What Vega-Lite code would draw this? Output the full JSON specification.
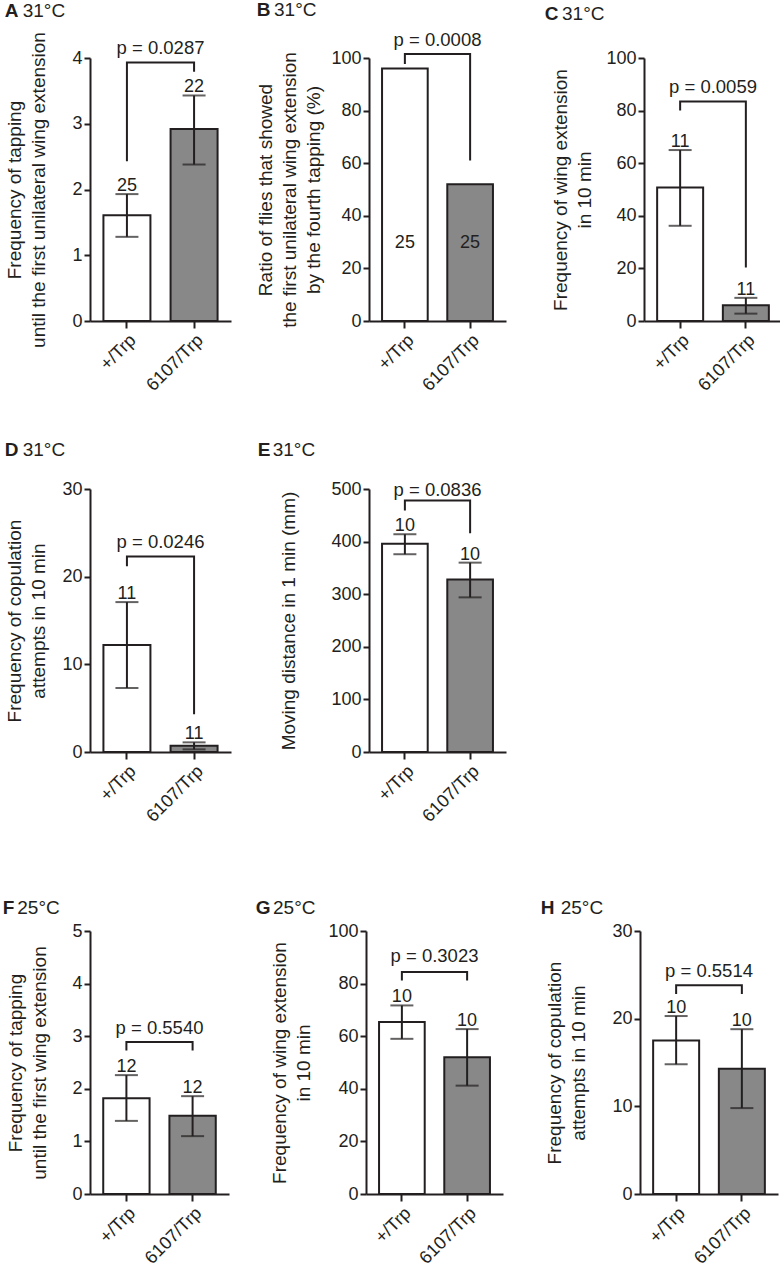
{
  "$schema": "https://vega.github.io/schema/vega-lite/v6.json",
  "background": "white",
  "padding": {"left": 2, "top": 1, "right": 0, "bottom": 0},
  "datasets": {
    "bars": [
      {"panel": "A", "group": "+/Trp", "mean": 1.61, "lo": 1.28, "hi": 1.93, "n": 25},
      {"panel": "A", "group": "6107/Trp", "mean": 2.92, "lo": 2.38, "hi": 3.43, "n": 22},
      {"panel": "B", "group": "+/Trp", "mean": 96, "n": 25},
      {"panel": "B", "group": "6107/Trp", "mean": 52, "n": 25},
      {"panel": "C", "group": "+/Trp", "mean": 50.8, "lo": 36.2, "hi": 65, "n": 11},
      {"panel": "C", "group": "6107/Trp", "mean": 6.0, "lo": 2.8, "hi": 8.8, "n": 11},
      {"panel": "D", "group": "+/Trp", "mean": 12.2, "lo": 7.3, "hi": 17.1, "n": 11},
      {"panel": "D", "group": "6107/Trp", "mean": 0.7, "lo": 0.3, "hi": 1.1, "n": 11},
      {"panel": "E", "group": "+/Trp", "mean": 396, "lo": 376, "hi": 414, "n": 10},
      {"panel": "E", "group": "6107/Trp", "mean": 328, "lo": 294, "hi": 360, "n": 10},
      {"panel": "F", "group": "+/Trp", "mean": 1.82, "lo": 1.39, "hi": 2.26, "n": 12},
      {"panel": "F", "group": "6107/Trp", "mean": 1.49, "lo": 1.10, "hi": 1.86, "n": 12},
      {"panel": "G", "group": "+/Trp", "mean": 65.4, "lo": 59, "hi": 71.7, "n": 10},
      {"panel": "G", "group": "6107/Trp", "mean": 52, "lo": 41.2, "hi": 62.7, "n": 10},
      {"panel": "H", "group": "+/Trp", "mean": 17.5, "lo": 14.8, "hi": 20.3, "n": 10},
      {"panel": "H", "group": "6107/Trp", "mean": 14.3, "lo": 9.8, "hi": 18.8, "n": 10}
    ],
    "brackets": [
      {"panel": "A", "group": "+/Trp", "y": 2.43, "order": 1},
      {"panel": "A", "group": "+/Trp", "y": 3.93, "order": 2},
      {"panel": "A", "group": "6107/Trp", "y": 3.93, "order": 3},
      {"panel": "A", "group": "6107/Trp", "y": 3.79, "order": 4},
      {"panel": "B", "group": "+/Trp", "y": 97.7, "order": 1},
      {"panel": "B", "group": "+/Trp", "y": 101.5, "order": 2},
      {"panel": "B", "group": "6107/Trp", "y": 101.5, "order": 3},
      {"panel": "B", "group": "6107/Trp", "y": 61, "order": 4},
      {"panel": "C", "group": "+/Trp", "y": 80, "order": 1},
      {"panel": "C", "group": "+/Trp", "y": 83.5, "order": 2},
      {"panel": "C", "group": "6107/Trp", "y": 83.5, "order": 3},
      {"panel": "C", "group": "6107/Trp", "y": 20.3, "order": 4},
      {"panel": "D", "group": "+/Trp", "y": 21.2, "order": 1},
      {"panel": "D", "group": "+/Trp", "y": 22.3, "order": 2},
      {"panel": "D", "group": "6107/Trp", "y": 22.3, "order": 3},
      {"panel": "D", "group": "6107/Trp", "y": 4.3, "order": 4},
      {"panel": "E", "group": "+/Trp", "y": 459, "order": 1},
      {"panel": "E", "group": "+/Trp", "y": 478, "order": 2},
      {"panel": "E", "group": "6107/Trp", "y": 478, "order": 3},
      {"panel": "E", "group": "6107/Trp", "y": 416, "order": 4},
      {"panel": "F", "group": "+/Trp", "y": 2.73, "order": 1},
      {"panel": "F", "group": "+/Trp", "y": 2.89, "order": 2},
      {"panel": "F", "group": "6107/Trp", "y": 2.89, "order": 3},
      {"panel": "F", "group": "6107/Trp", "y": 2.73, "order": 4},
      {"panel": "G", "group": "+/Trp", "y": 81.2, "order": 1},
      {"panel": "G", "group": "+/Trp", "y": 84.4, "order": 2},
      {"panel": "G", "group": "6107/Trp", "y": 84.4, "order": 3},
      {"panel": "G", "group": "6107/Trp", "y": 81.2, "order": 4},
      {"panel": "H", "group": "+/Trp", "y": 22.8, "order": 1},
      {"panel": "H", "group": "+/Trp", "y": 23.8, "order": 2},
      {"panel": "H", "group": "6107/Trp", "y": 23.8, "order": 3},
      {"panel": "H", "group": "6107/Trp", "y": 22.8, "order": 4}
    ],
    "pvals": [
      {"panel": "A", "p": "p = 0.0287", "y": 4.06},
      {"panel": "B", "p": "p = 0.0008", "y": 104.5},
      {"panel": "C", "p": "p = 0.0059", "y": 86.7},
      {"panel": "D", "p": "p = 0.0246", "y": 23.3},
      {"panel": "E", "p": "p = 0.0836", "y": 487},
      {"panel": "F", "p": "p = 0.5540", "y": 3.05},
      {"panel": "G", "p": "p = 0.3023", "y": 88.2},
      {"panel": "H", "p": "p = 0.5514", "y": 24.8}
    ]
  },
  "vconcat": [
    {
      "concat": [
        {
          "width": 141, "height": 263,
          "title": {"text": "A", "subtitle": "31°C", "dx": -67.3, "offset": 11, "encoding": {"dx": {"value": -85.3}}},
          "layer": [
            {"data": {"name": "bars"}, "transform": [{"filter": "datum.panel === 'A'"}],
             "mark": {"type": "bar", "stroke": "#231f20", "strokeWidth": 2},
             "encoding": {
               "x": {"field": "group", "type": "nominal", "sort": ["+/Trp", "6107/Trp"], "scale": {"paddingInner": 0.3, "paddingOuter": 0.2}, "axis": {"title": null}},
               "y": {"field": "mean", "type": "quantitative", "scale": {"domain": [0, 4], "nice": false}, "axis": {"values": [0, 1, 2, 3, 4], "format": "d", "title": ["Frequency of tapping", "until the first unilateral wing extension"], "titlePadding": 23}},
               "fill": {"field": "group", "type": "nominal", "scale": {"domain": ["+/Trp", "6107/Trp"], "range": ["#ffffff", "#888888"]}, "legend": null}}},
            {"data": {"name": "bars"}, "transform": [{"filter": "datum.panel === 'A'"}],
             "mark": {"type": "rule", "strokeWidth": 2, "color": "#231f20"},
             "encoding": {"x": {"field": "group", "type": "nominal", "sort": ["+/Trp", "6107/Trp"]}, "y": {"field": "lo", "type": "quantitative"}, "y2": {"field": "hi"}}},
            {"data": {"name": "bars"}, "transform": [{"filter": "datum.panel === 'A'"}],
             "mark": {"type": "tick", "size": 23, "thickness": 2, "color": "#231f20"},
             "encoding": {"x": {"field": "group", "type": "nominal", "sort": ["+/Trp", "6107/Trp"]}, "y": {"field": "lo", "type": "quantitative"}}},
            {"data": {"name": "bars"}, "transform": [{"filter": "datum.panel === 'A'"}],
             "mark": {"type": "tick", "size": 23, "thickness": 2, "color": "#231f20"},
             "encoding": {"x": {"field": "group", "type": "nominal", "sort": ["+/Trp", "6107/Trp"]}, "y": {"field": "hi", "type": "quantitative"}}},
            {"data": {"name": "bars"}, "transform": [{"filter": "datum.panel === 'A'"}],
             "mark": {"type": "text", "baseline": "alphabetic", "dy": -3},
             "encoding": {"x": {"field": "group", "type": "nominal", "sort": ["+/Trp", "6107/Trp"]}, "y": {"field": "hi", "type": "quantitative"}, "text": {"field": "n"}}},
            {"data": {"name": "brackets"}, "transform": [{"filter": "datum.panel === 'A'"}],
             "mark": {"type": "line", "strokeWidth": 2, "color": "#231f20"},
             "encoding": {"x": {"field": "group", "type": "nominal", "sort": ["+/Trp", "6107/Trp"]}, "y": {"field": "y", "type": "quantitative"}, "order": {"field": "order"}}},
            {"data": {"name": "pvals"}, "transform": [{"filter": "datum.panel === 'A'"}],
             "mark": {"type": "text", "baseline": "alphabetic", "fontSize": 18.5},
             "encoding": {"y": {"field": "y", "type": "quantitative"}, "text": {"field": "p"}}}
          ]
        },
        {
          "width": 137, "height": 263,
          "title": {"text": "B", "subtitle": "31°C", "dx": -95, "offset": 11, "encoding": {"dx": {"value": -112.3}}},
          "layer": [
            {"data": {"name": "bars"}, "transform": [{"filter": "datum.panel === 'B'"}],
             "mark": {"type": "bar", "stroke": "#231f20", "strokeWidth": 2},
             "encoding": {
               "x": {"field": "group", "type": "nominal", "sort": ["+/Trp", "6107/Trp"], "scale": {"paddingInner": 0.3, "paddingOuter": 0.2}, "axis": {"title": null}},
               "y": {"field": "mean", "type": "quantitative", "scale": {"domain": [0, 100], "nice": false}, "axis": {"values": [0, 20, 40, 60, 80, 100], "format": "d", "title": ["Ratio of flies that showed", "the first unilateral wing extension", "by the fourth tapping (%)"], "titlePadding": 7}},
               "fill": {"field": "group", "type": "nominal", "scale": {"domain": ["+/Trp", "6107/Trp"], "range": ["#ffffff", "#888888"]}, "legend": null}}},
            {"data": {"name": "bars"}, "transform": [{"filter": "datum.panel === 'B'"}],
             "mark": {"type": "text", "baseline": "middle"},
             "encoding": {"x": {"field": "group", "type": "nominal", "sort": ["+/Trp", "6107/Trp"]}, "y": {"datum": 29.5}, "text": {"field": "n"}}},
            {"data": {"name": "brackets"}, "transform": [{"filter": "datum.panel === 'B'"}],
             "mark": {"type": "line", "strokeWidth": 2, "color": "#231f20"},
             "encoding": {"x": {"field": "group", "type": "nominal", "sort": ["+/Trp", "6107/Trp"]}, "y": {"field": "y", "type": "quantitative"}, "order": {"field": "order"}}},
            {"data": {"name": "pvals"}, "transform": [{"filter": "datum.panel === 'B'"}],
             "mark": {"type": "text", "baseline": "alphabetic", "fontSize": 18.5},
             "encoding": {"y": {"field": "y", "type": "quantitative"}, "text": {"field": "p"}}}
          ]
        },
        {
          "width": 138, "height": 263,
          "title": {"text": "C", "subtitle": "31°C", "dx": -82, "offset": 25.5, "encoding": {"dx": {"value": -99.3}}},
          "layer": [
            {"data": {"name": "bars"}, "transform": [{"filter": "datum.panel === 'C'"}],
             "mark": {"type": "bar", "stroke": "#231f20", "strokeWidth": 2},
             "encoding": {
               "x": {"field": "group", "type": "nominal", "sort": ["+/Trp", "6107/Trp"], "scale": {"paddingInner": 0.3, "paddingOuter": 0.2}, "axis": {"title": null}},
               "y": {"field": "mean", "type": "quantitative", "scale": {"domain": [0, 100], "nice": false}, "axis": {"values": [0, 20, 40, 60, 80, 100], "format": "d", "title": ["Frequency of wing extension", "in 10 min"], "titlePadding": 11}},
               "fill": {"field": "group", "type": "nominal", "scale": {"domain": ["+/Trp", "6107/Trp"], "range": ["#ffffff", "#888888"]}, "legend": null}}},
            {"data": {"name": "bars"}, "transform": [{"filter": "datum.panel === 'C'"}],
             "mark": {"type": "rule", "strokeWidth": 2, "color": "#231f20"},
             "encoding": {"x": {"field": "group", "type": "nominal", "sort": ["+/Trp", "6107/Trp"]}, "y": {"field": "lo", "type": "quantitative"}, "y2": {"field": "hi"}}},
            {"data": {"name": "bars"}, "transform": [{"filter": "datum.panel === 'C'"}],
             "mark": {"type": "tick", "size": 23, "thickness": 2, "color": "#231f20"},
             "encoding": {"x": {"field": "group", "type": "nominal", "sort": ["+/Trp", "6107/Trp"]}, "y": {"field": "lo", "type": "quantitative"}}},
            {"data": {"name": "bars"}, "transform": [{"filter": "datum.panel === 'C'"}],
             "mark": {"type": "tick", "size": 23, "thickness": 2, "color": "#231f20"},
             "encoding": {"x": {"field": "group", "type": "nominal", "sort": ["+/Trp", "6107/Trp"]}, "y": {"field": "hi", "type": "quantitative"}}},
            {"data": {"name": "bars"}, "transform": [{"filter": "datum.panel === 'C'"}],
             "mark": {"type": "text", "baseline": "alphabetic", "dy": -3},
             "encoding": {"x": {"field": "group", "type": "nominal", "sort": ["+/Trp", "6107/Trp"]}, "y": {"field": "hi", "type": "quantitative"}, "text": {"field": "n"}}},
            {"data": {"name": "brackets"}, "transform": [{"filter": "datum.panel === 'C'"}],
             "mark": {"type": "line", "strokeWidth": 2, "color": "#231f20"},
             "encoding": {"x": {"field": "group", "type": "nominal", "sort": ["+/Trp", "6107/Trp"]}, "y": {"field": "y", "type": "quantitative"}, "order": {"field": "order"}}},
            {"data": {"name": "pvals"}, "transform": [{"filter": "datum.panel === 'C'"}],
             "mark": {"type": "text", "baseline": "alphabetic", "fontSize": 18.5},
             "encoding": {"y": {"field": "y", "type": "quantitative"}, "text": {"field": "p"}}}
          ]
        },
        {
          "width": 141, "height": 263,
          "title": {"text": "D", "subtitle": "31°C", "dx": -67.3, "offset": 20.5, "encoding": {"dx": {"value": -85.3}}},
          "layer": [
            {"data": {"name": "bars"}, "transform": [{"filter": "datum.panel === 'D'"}],
             "mark": {"type": "bar", "stroke": "#231f20", "strokeWidth": 2},
             "encoding": {
               "x": {"field": "group", "type": "nominal", "sort": ["+/Trp", "6107/Trp"], "scale": {"paddingInner": 0.3, "paddingOuter": 0.2}, "axis": {"title": null}},
               "y": {"field": "mean", "type": "quantitative", "scale": {"domain": [0, 30], "nice": false}, "axis": {"values": [0, 10, 20, 30], "format": "d", "title": ["Frequency of copulation", "attempts in 10 min"], "titlePadding": 13}},
               "fill": {"field": "group", "type": "nominal", "scale": {"domain": ["+/Trp", "6107/Trp"], "range": ["#ffffff", "#888888"]}, "legend": null}}},
            {"data": {"name": "bars"}, "transform": [{"filter": "datum.panel === 'D'"}],
             "mark": {"type": "rule", "strokeWidth": 2, "color": "#231f20"},
             "encoding": {"x": {"field": "group", "type": "nominal", "sort": ["+/Trp", "6107/Trp"]}, "y": {"field": "lo", "type": "quantitative"}, "y2": {"field": "hi"}}},
            {"data": {"name": "bars"}, "transform": [{"filter": "datum.panel === 'D'"}],
             "mark": {"type": "tick", "size": 23, "thickness": 2, "color": "#231f20"},
             "encoding": {"x": {"field": "group", "type": "nominal", "sort": ["+/Trp", "6107/Trp"]}, "y": {"field": "lo", "type": "quantitative"}}},
            {"data": {"name": "bars"}, "transform": [{"filter": "datum.panel === 'D'"}],
             "mark": {"type": "tick", "size": 23, "thickness": 2, "color": "#231f20"},
             "encoding": {"x": {"field": "group", "type": "nominal", "sort": ["+/Trp", "6107/Trp"]}, "y": {"field": "hi", "type": "quantitative"}}},
            {"data": {"name": "bars"}, "transform": [{"filter": "datum.panel === 'D'"}],
             "mark": {"type": "text", "baseline": "alphabetic", "dy": -3},
             "encoding": {"x": {"field": "group", "type": "nominal", "sort": ["+/Trp", "6107/Trp"]}, "y": {"field": "hi", "type": "quantitative"}, "text": {"field": "n"}}},
            {"data": {"name": "brackets"}, "transform": [{"filter": "datum.panel === 'D'"}],
             "mark": {"type": "line", "strokeWidth": 2, "color": "#231f20"},
             "encoding": {"x": {"field": "group", "type": "nominal", "sort": ["+/Trp", "6107/Trp"]}, "y": {"field": "y", "type": "quantitative"}, "order": {"field": "order"}}},
            {"data": {"name": "pvals"}, "transform": [{"filter": "datum.panel === 'D'"}],
             "mark": {"type": "text", "baseline": "alphabetic", "fontSize": 18.5},
             "encoding": {"y": {"field": "y", "type": "quantitative"}, "text": {"field": "p"}}}
          ]
        },
        {
          "width": 137, "height": 263,
          "title": {"text": "E", "subtitle": "31°C", "dx": -96.3, "offset": 20.5, "encoding": {"dx": {"value": -111.3}}},
          "layer": [
            {"data": {"name": "bars"}, "transform": [{"filter": "datum.panel === 'E'"}],
             "mark": {"type": "bar", "stroke": "#231f20", "strokeWidth": 2},
             "encoding": {
               "x": {"field": "group", "type": "nominal", "sort": ["+/Trp", "6107/Trp"], "scale": {"paddingInner": 0.3, "paddingOuter": 0.2}, "axis": {"title": null}},
               "y": {"field": "mean", "type": "quantitative", "scale": {"domain": [0, 500], "nice": false}, "axis": {"values": [0, 100, 200, 300, 400, 500], "format": "d", "title": "Moving distance in 1 min (mm)", "titlePadding": 32}},
               "fill": {"field": "group", "type": "nominal", "scale": {"domain": ["+/Trp", "6107/Trp"], "range": ["#ffffff", "#888888"]}, "legend": null}}},
            {"data": {"name": "bars"}, "transform": [{"filter": "datum.panel === 'E'"}],
             "mark": {"type": "rule", "strokeWidth": 2, "color": "#231f20"},
             "encoding": {"x": {"field": "group", "type": "nominal", "sort": ["+/Trp", "6107/Trp"]}, "y": {"field": "lo", "type": "quantitative"}, "y2": {"field": "hi"}}},
            {"data": {"name": "bars"}, "transform": [{"filter": "datum.panel === 'E'"}],
             "mark": {"type": "tick", "size": 23, "thickness": 2, "color": "#231f20"},
             "encoding": {"x": {"field": "group", "type": "nominal", "sort": ["+/Trp", "6107/Trp"]}, "y": {"field": "lo", "type": "quantitative"}}},
            {"data": {"name": "bars"}, "transform": [{"filter": "datum.panel === 'E'"}],
             "mark": {"type": "tick", "size": 23, "thickness": 2, "color": "#231f20"},
             "encoding": {"x": {"field": "group", "type": "nominal", "sort": ["+/Trp", "6107/Trp"]}, "y": {"field": "hi", "type": "quantitative"}}},
            {"data": {"name": "bars"}, "transform": [{"filter": "datum.panel === 'E'"}],
             "mark": {"type": "text", "baseline": "alphabetic", "dy": -3},
             "encoding": {"x": {"field": "group", "type": "nominal", "sort": ["+/Trp", "6107/Trp"]}, "y": {"field": "hi", "type": "quantitative"}, "text": {"field": "n"}}},
            {"data": {"name": "brackets"}, "transform": [{"filter": "datum.panel === 'E'"}],
             "mark": {"type": "line", "strokeWidth": 2, "color": "#231f20"},
             "encoding": {"x": {"field": "group", "type": "nominal", "sort": ["+/Trp", "6107/Trp"]}, "y": {"field": "y", "type": "quantitative"}, "order": {"field": "order"}}},
            {"data": {"name": "pvals"}, "transform": [{"filter": "datum.panel === 'E'"}],
             "mark": {"type": "text", "baseline": "alphabetic", "fontSize": 18.5},
             "encoding": {"y": {"field": "y", "type": "quantitative"}, "text": {"field": "p"}}}
          ]
        }
      ],
      "columns": 3,
      "spacing": {"row": 168, "column": 138},
      "bounds": "flush"
    },
    {
      "hconcat": [
        {
          "width": 139, "height": 263,
          "title": {"text": "F", "subtitle": "25°C", "dx": -72.7, "offset": 4, "encoding": {"dx": {"value": -87.3}}},
          "layer": [
            {"data": {"name": "bars"}, "transform": [{"filter": "datum.panel === 'F'"}],
             "mark": {"type": "bar", "stroke": "#231f20", "strokeWidth": 2},
             "encoding": {
               "x": {"field": "group", "type": "nominal", "sort": ["+/Trp", "6107/Trp"], "scale": {"paddingInner": 0.3, "paddingOuter": 0.2}, "axis": {"title": null}},
               "y": {"field": "mean", "type": "quantitative", "scale": {"domain": [0, 5], "nice": false}, "axis": {"values": [0, 1, 2, 3, 4, 5], "format": "d", "title": ["Frequency of tapping", "until the first wing extension"], "titlePadding": 22}},
               "fill": {"field": "group", "type": "nominal", "scale": {"domain": ["+/Trp", "6107/Trp"], "range": ["#ffffff", "#888888"]}, "legend": null}}},
            {"data": {"name": "bars"}, "transform": [{"filter": "datum.panel === 'F'"}],
             "mark": {"type": "rule", "strokeWidth": 2, "color": "#231f20"},
             "encoding": {"x": {"field": "group", "type": "nominal", "sort": ["+/Trp", "6107/Trp"]}, "y": {"field": "lo", "type": "quantitative"}, "y2": {"field": "hi"}}},
            {"data": {"name": "bars"}, "transform": [{"filter": "datum.panel === 'F'"}],
             "mark": {"type": "tick", "size": 23, "thickness": 2, "color": "#231f20"},
             "encoding": {"x": {"field": "group", "type": "nominal", "sort": ["+/Trp", "6107/Trp"]}, "y": {"field": "lo", "type": "quantitative"}}},
            {"data": {"name": "bars"}, "transform": [{"filter": "datum.panel === 'F'"}],
             "mark": {"type": "tick", "size": 23, "thickness": 2, "color": "#231f20"},
             "encoding": {"x": {"field": "group", "type": "nominal", "sort": ["+/Trp", "6107/Trp"]}, "y": {"field": "hi", "type": "quantitative"}}},
            {"data": {"name": "bars"}, "transform": [{"filter": "datum.panel === 'F'"}],
             "mark": {"type": "text", "baseline": "alphabetic", "dy": -3},
             "encoding": {"x": {"field": "group", "type": "nominal", "sort": ["+/Trp", "6107/Trp"]}, "y": {"field": "hi", "type": "quantitative"}, "text": {"field": "n"}}},
            {"data": {"name": "brackets"}, "transform": [{"filter": "datum.panel === 'F'"}],
             "mark": {"type": "line", "strokeWidth": 2, "color": "#231f20"},
             "encoding": {"x": {"field": "group", "type": "nominal", "sort": ["+/Trp", "6107/Trp"]}, "y": {"field": "y", "type": "quantitative"}, "order": {"field": "order"}}},
            {"data": {"name": "pvals"}, "transform": [{"filter": "datum.panel === 'F'"}],
             "mark": {"type": "text", "baseline": "alphabetic", "fontSize": 18.5},
             "encoding": {"y": {"field": "y", "type": "quantitative"}, "text": {"field": "p"}}}
          ]
        },
        {
          "width": 137, "height": 263,
          "title": {"text": "G", "subtitle": "25°C", "dx": -93, "offset": 4, "encoding": {"dx": {"value": -110.3}}},
          "layer": [
            {"data": {"name": "bars"}, "transform": [{"filter": "datum.panel === 'G'"}],
             "mark": {"type": "bar", "stroke": "#231f20", "strokeWidth": 2},
             "encoding": {
               "x": {"field": "group", "type": "nominal", "sort": ["+/Trp", "6107/Trp"], "scale": {"paddingInner": 0.3, "paddingOuter": 0.2}, "axis": {"title": null}},
               "y": {"field": "mean", "type": "quantitative", "scale": {"domain": [0, 100], "nice": false}, "axis": {"values": [0, 20, 40, 60, 80, 100], "format": "d", "title": ["Frequency of wing extension", "in 10 min"], "titlePadding": 14}},
               "fill": {"field": "group", "type": "nominal", "scale": {"domain": ["+/Trp", "6107/Trp"], "range": ["#ffffff", "#888888"]}, "legend": null}}},
            {"data": {"name": "bars"}, "transform": [{"filter": "datum.panel === 'G'"}],
             "mark": {"type": "rule", "strokeWidth": 2, "color": "#231f20"},
             "encoding": {"x": {"field": "group", "type": "nominal", "sort": ["+/Trp", "6107/Trp"]}, "y": {"field": "lo", "type": "quantitative"}, "y2": {"field": "hi"}}},
            {"data": {"name": "bars"}, "transform": [{"filter": "datum.panel === 'G'"}],
             "mark": {"type": "tick", "size": 23, "thickness": 2, "color": "#231f20"},
             "encoding": {"x": {"field": "group", "type": "nominal", "sort": ["+/Trp", "6107/Trp"]}, "y": {"field": "lo", "type": "quantitative"}}},
            {"data": {"name": "bars"}, "transform": [{"filter": "datum.panel === 'G'"}],
             "mark": {"type": "tick", "size": 23, "thickness": 2, "color": "#231f20"},
             "encoding": {"x": {"field": "group", "type": "nominal", "sort": ["+/Trp", "6107/Trp"]}, "y": {"field": "hi", "type": "quantitative"}}},
            {"data": {"name": "bars"}, "transform": [{"filter": "datum.panel === 'G'"}],
             "mark": {"type": "text", "baseline": "alphabetic", "dy": -3},
             "encoding": {"x": {"field": "group", "type": "nominal", "sort": ["+/Trp", "6107/Trp"]}, "y": {"field": "hi", "type": "quantitative"}, "text": {"field": "n"}}},
            {"data": {"name": "brackets"}, "transform": [{"filter": "datum.panel === 'G'"}],
             "mark": {"type": "line", "strokeWidth": 2, "color": "#231f20"},
             "encoding": {"x": {"field": "group", "type": "nominal", "sort": ["+/Trp", "6107/Trp"]}, "y": {"field": "y", "type": "quantitative"}, "order": {"field": "order"}}},
            {"data": {"name": "pvals"}, "transform": [{"filter": "datum.panel === 'G'"}],
             "mark": {"type": "text", "baseline": "alphabetic", "fontSize": 18.5},
             "encoding": {"y": {"field": "y", "type": "quantitative"}, "text": {"field": "p"}}}
          ]
        },
        {
          "width": 138, "height": 263,
          "title": {"text": "H", "subtitle": "25°C", "dx": -79.3, "offset": 4, "encoding": {"dx": {"value": -99.3}}},
          "layer": [
            {"data": {"name": "bars"}, "transform": [{"filter": "datum.panel === 'H'"}],
             "mark": {"type": "bar", "stroke": "#231f20", "strokeWidth": 2},
             "encoding": {
               "x": {"field": "group", "type": "nominal", "sort": ["+/Trp", "6107/Trp"], "scale": {"paddingInner": 0.3, "paddingOuter": 0.2}, "axis": {"title": null}},
               "y": {"field": "mean", "type": "quantitative", "scale": {"domain": [0, 30], "nice": false}, "axis": {"values": [0, 10, 20, 30], "format": "d", "title": ["Frequency of copulation", "attempts in 10 min"], "titlePadding": 23}},
               "fill": {"field": "group", "type": "nominal", "scale": {"domain": ["+/Trp", "6107/Trp"], "range": ["#ffffff", "#888888"]}, "legend": null}}},
            {"data": {"name": "bars"}, "transform": [{"filter": "datum.panel === 'H'"}],
             "mark": {"type": "rule", "strokeWidth": 2, "color": "#231f20"},
             "encoding": {"x": {"field": "group", "type": "nominal", "sort": ["+/Trp", "6107/Trp"]}, "y": {"field": "lo", "type": "quantitative"}, "y2": {"field": "hi"}}},
            {"data": {"name": "bars"}, "transform": [{"filter": "datum.panel === 'H'"}],
             "mark": {"type": "tick", "size": 23, "thickness": 2, "color": "#231f20"},
             "encoding": {"x": {"field": "group", "type": "nominal", "sort": ["+/Trp", "6107/Trp"]}, "y": {"field": "lo", "type": "quantitative"}}},
            {"data": {"name": "bars"}, "transform": [{"filter": "datum.panel === 'H'"}],
             "mark": {"type": "tick", "size": 23, "thickness": 2, "color": "#231f20"},
             "encoding": {"x": {"field": "group", "type": "nominal", "sort": ["+/Trp", "6107/Trp"]}, "y": {"field": "hi", "type": "quantitative"}}},
            {"data": {"name": "bars"}, "transform": [{"filter": "datum.panel === 'H'"}],
             "mark": {"type": "text", "baseline": "alphabetic", "dy": -3},
             "encoding": {"x": {"field": "group", "type": "nominal", "sort": ["+/Trp", "6107/Trp"]}, "y": {"field": "hi", "type": "quantitative"}, "text": {"field": "n"}}},
            {"data": {"name": "brackets"}, "transform": [{"filter": "datum.panel === 'H'"}],
             "mark": {"type": "line", "strokeWidth": 2, "color": "#231f20"},
             "encoding": {"x": {"field": "group", "type": "nominal", "sort": ["+/Trp", "6107/Trp"]}, "y": {"field": "y", "type": "quantitative"}, "order": {"field": "order"}}},
            {"data": {"name": "pvals"}, "transform": [{"filter": "datum.panel === 'H'"}],
             "mark": {"type": "text", "baseline": "alphabetic", "fontSize": 18.5},
             "encoding": {"y": {"field": "y", "type": "quantitative"}, "text": {"field": "p"}}}
          ]
        }
      ],
      "spacing": 137,
      "bounds": "flush"
    }
  ],
  "spacing": 73,
  "bounds": "full",
  "config": {
    "font": "Liberation Sans",
    "view": {"stroke": null},
    "axis": {
      "domainColor": "#231f20", "domainWidth": 2, "tickColor": "#231f20", "tickWidth": 2, "tickSize": 6,
      "labelFontSize": 18, "labelColor": "#231f20", "labelPadding": 2,
      "titleFontSize": 19, "titleFontWeight": "normal", "titleColor": "#231f20", "titleLineHeight": 24,
      "grid": false
    },
    "axisX": {"labelAngle": -45, "tickSize": 7, "labelPadding": 3},
    "title": {
      "anchor": "start", "frame": "group", "fontSize": 19, "fontWeight": "bold", "color": "#231f20",
      "subtitleFontSize": 19, "subtitleColor": "#231f20", "subtitleFontWeight": "normal", "subtitlePadding": -19
    },
    "text": {"color": "#231f20", "fontSize": 18}
  }
}
